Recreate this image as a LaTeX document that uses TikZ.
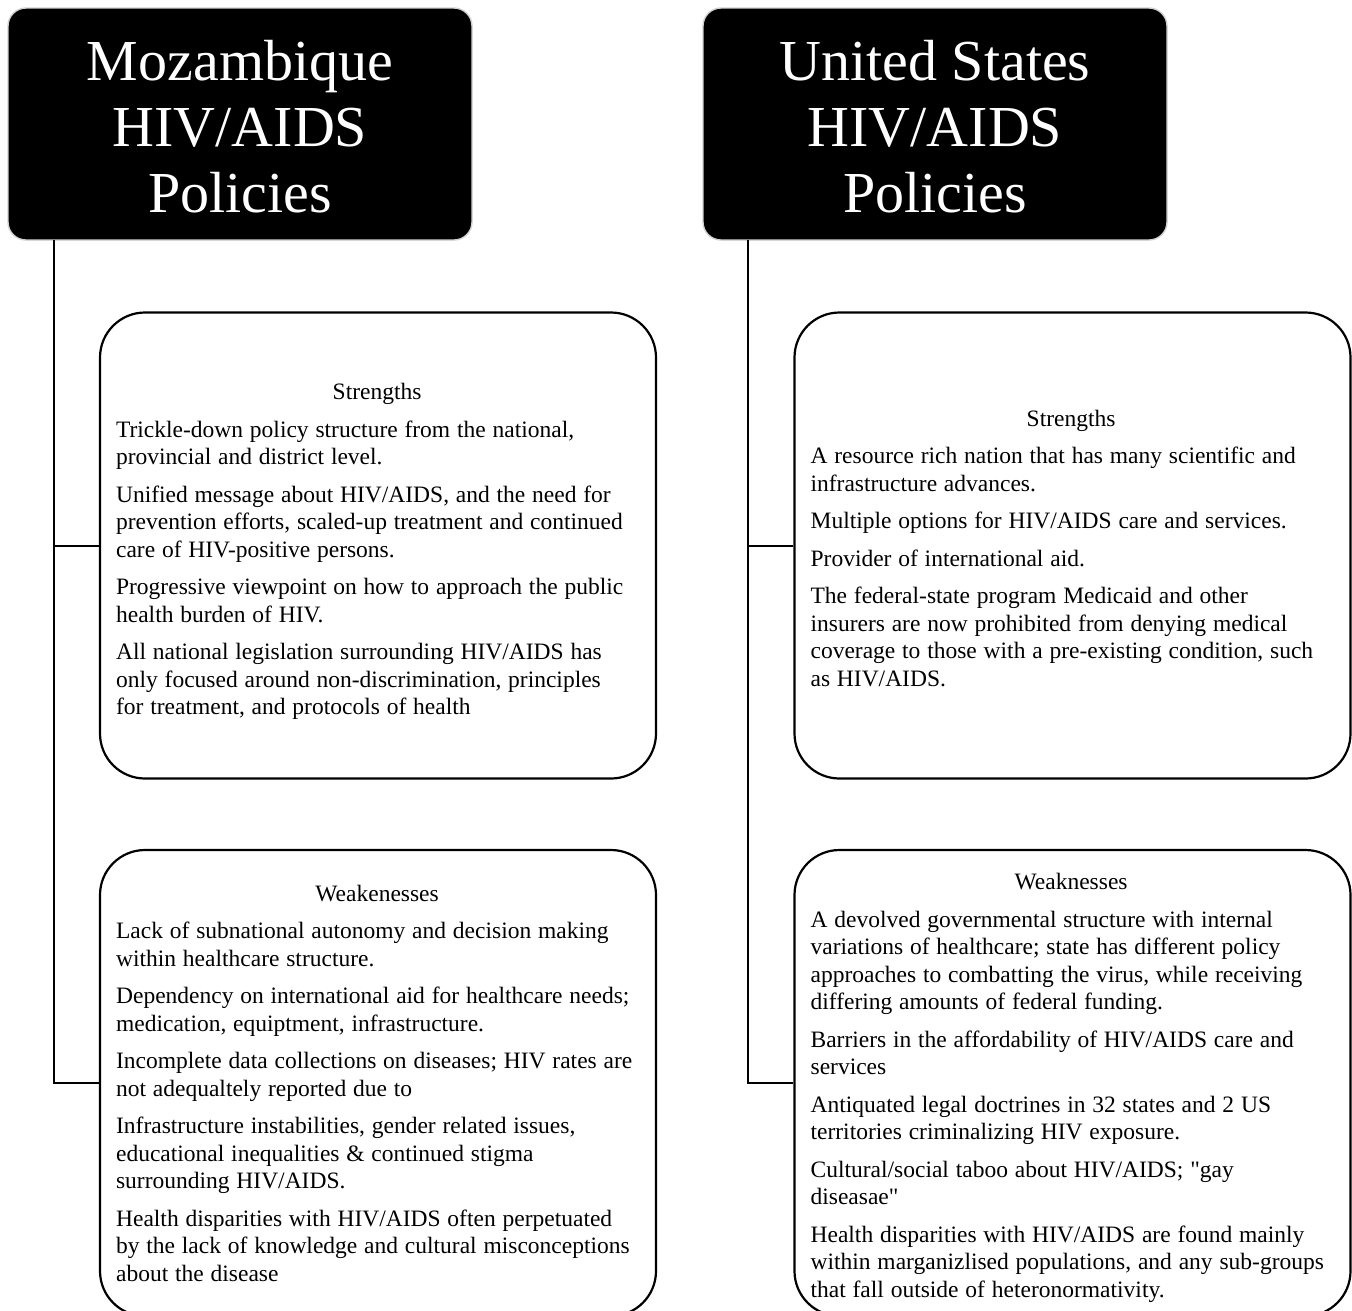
\documentclass[tikz,border=0pt]{standalone}
\usepackage{fontspec}
\setmainfont{Liberation Serif}[Ligatures=TeXOff]
\newcommand{\bodyfont}{\fontsize{23.5}{27.5}\selectfont\spaceskip=0.29em plus 0.1em\relax}
\begin{document}
\begin{tikzpicture}[x=1pt,y=-1pt,
  header/.style={draw=black!18, line width=1.4pt, fill=black, rounded corners=18pt,
    minimum width=464pt, minimum height=232pt, inner sep=0pt},
  headtext/.style={text=white, align=center, font=\fontsize{58}{66}\selectfont, inner sep=0pt},
  panel/.style={draw=black, line width=2.2pt, rounded corners=45pt,
    minimum width=556pt, minimum height=466pt, inner sep=0pt},
  body/.style={anchor=west, align=left, inner sep=0pt, xshift=17pt, font=\bodyfont},
  link/.style={draw=black, line width=2pt}]
\clip (0,0) rectangle (1352,1310);
\useasboundingbox (0,0) rectangle (1352,1310);

% headers
\node[header] (hL) at (240,124) {};
\node[header] (hR) at (935,124) {};
\node[headtext] (hLt) at ([yshift=-3pt]hL.center) {Mozambique\\HIV/AIDS\\Policies};
\node[headtext] (hRt) at ([yshift=-3pt]hR.center) {United States\\HIV/AIDS\\Policies};

% panels
\node[panel] (sL) at (378,545.5) {};
\node[panel] (wL) at (378,1083) {};
\node[panel] (sR) at (1072.5,545.5) {};
\node[panel] (wR) at (1072.5,1083) {};

% connectors
\coordinate (jL) at (54,240);
\coordinate (jR) at (748,240);
\draw[link] (jL) |- (wL.west);
\draw[link] (sL.west) -- (sL.west -| jL);
\draw[link] (jR) |- (wR.west);
\draw[link] (sR.west) -- (sR.west -| jR);

% texts
\node[body, yshift=-6pt] (tsL) at (sL.west) {\makebox[522pt][c]{Strengths}\\[10pt]
Trickle-down policy structure from the national,\\
provincial and district level.\\[10pt]
Unified message about HIV/AIDS, and the need for\\
prevention efforts, scaled-up treatment and continued\\
care of HIV-positive persons.\\[10pt]
Progressive viewpoint on how to approach the public\\
health burden of HIV.\\[10pt]
All national legislation surrounding HIV/AIDS has\\
only focused around non-discrimination, principles\\
for treatment, and protocols of health};

\node[body] (twL) at (wL.west) {\makebox[522pt][c]{Weakenesses}\\[10pt]
Lack of subnational autonomy and decision making\\
within healthcare structure.\\[10pt]
Dependency on international aid for healthcare needs;\\
medication, equiptment, infrastructure.\\[10pt]
Incomplete data collections on diseases; HIV rates are\\
not adequaltely reported due to\\[10pt]
Infrastructure instabilities, gender related issues,\\
educational inequalities \& continued stigma\\
surrounding HIV/AIDS.\\[10pt]
Health disparities with HIV/AIDS often perpetuated\\
by the lack of knowledge and cultural misconceptions\\
about the disease};

\node[body, yshift=-3pt] (tsR) at (sR.west) {\makebox[521pt][c]{Strengths}\\[10pt]
A resource rich nation that has many scientific and\\
infrastructure advances.\\[10pt]
Multiple options for HIV/AIDS care and services.\\[10pt]
Provider of international aid.\\[10pt]
The federal-state program Medicaid and other\\
insurers are now prohibited from denying medical\\
coverage to those with a pre-existing condition, such\\
as HIV/AIDS.};

\node[body, yshift=-5pt] (twR) at (wR.west) {\makebox[521pt][c]{Weaknesses}\\[10pt]
A devolved governmental structure with internal\\
variations of healthcare; state has different policy\\
approaches to combatting the virus, while receiving\\
differing amounts of federal funding.\\[10pt]
Barriers in the affordability of HIV/AIDS care and\\
services\\[10pt]
Antiquated legal doctrines in 32 states and 2 US\\
territories criminalizing HIV exposure.\\[10pt]
Cultural/social taboo about HIV/AIDS; "gay\\
diseasae"\\[10pt]
Health disparities with HIV/AIDS are found mainly\\
within marganizlised populations, and any sub-groups\\
that fall outside of heteronormativity.};
\end{tikzpicture}
\end{document}
